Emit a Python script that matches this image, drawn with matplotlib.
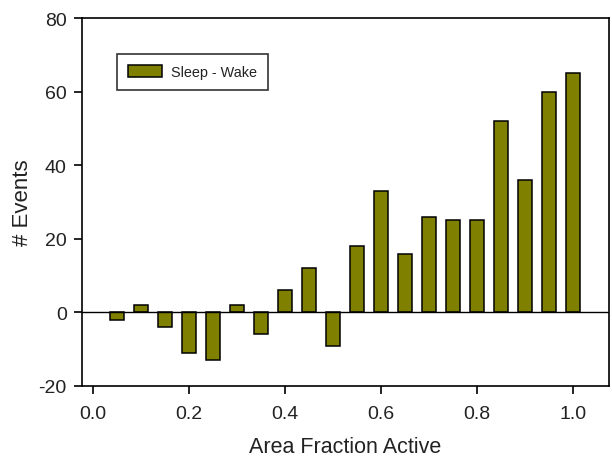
import matplotlib
matplotlib.use("Agg")
import matplotlib.pyplot as plt
import numpy as np

plt.rcParams["font.family"] = ["Liberation Sans", "DejaVu Sans"]
plt.rcParams["axes.unicode_minus"] = False

area_fraction = [0.05, 0.10, 0.15, 0.20, 0.25, 0.30, 0.35, 0.40, 0.45, 0.50,
                 0.55, 0.60, 0.65, 0.70, 0.75, 0.80, 0.85, 0.90, 0.95, 1.00]
sleep_minus_wake = [-2, 2, -4, -11, -13, 2, -6, 6, 12, -9,
                    18, 33, 16, 26, 25, 25, 52, 36, 60, 65]
x_ticks = [0.0, 0.2, 0.4, 0.6, 0.8, 1.0]
y_ticks = [-20, 0, 20, 40, 60, 80]

fig = plt.figure(figsize=(6.12, 4.64), dpi=100)
ax = fig.add_axes([0.134, 0.166, 0.861, 0.793])

ax.bar(
    area_fraction,
    sleep_minus_wake,
    width=0.031,
    color="#808000",
    edgecolor="black",
    linewidth=1.1,
    label="Sleep - Wake",
    zorder=2,
)
ax.axhline(0, color="black", linewidth=1.0, zorder=3)

ax.set_xlim(-0.023, 1.075)
ax.set_ylim(-20, 80)
ax.set_xticks(x_ticks)
ax.set_xticklabels([f"{t:.1f}" for t in x_ticks])
ax.set_yticks(y_ticks)
ax.tick_params(direction="out", length=6, width=1.2, labelsize=14,
               colors="black", pad=5)
ax.tick_params(axis="x", pad=8, labelcolor="#222222")
ax.tick_params(axis="y", labelcolor="#222222")

for spine in ax.spines.values():
    spine.set_linewidth(1.2)

ax.set_xlabel("Area Fraction Active", fontsize=15.5, labelpad=10,
              color="#222222")
ax.set_ylabel("# Events", fontsize=16, labelpad=4, color="#222222")

leg = ax.legend(
    loc="upper left",
    bbox_to_anchor=(0.066, 0.902),
    fontsize=10.4,
    frameon=True,
    fancybox=False,
    handlelength=2.4,
    handleheight=0.85,
    borderpad=0.75,
    handletextpad=0.6,
    borderaxespad=0,
)
leg.get_frame().set_edgecolor("black")
leg.get_frame().set_linewidth(1.2)
for text in leg.get_texts():
    text.set_color("#222222")

fig.savefig("out.png", dpi=100)
